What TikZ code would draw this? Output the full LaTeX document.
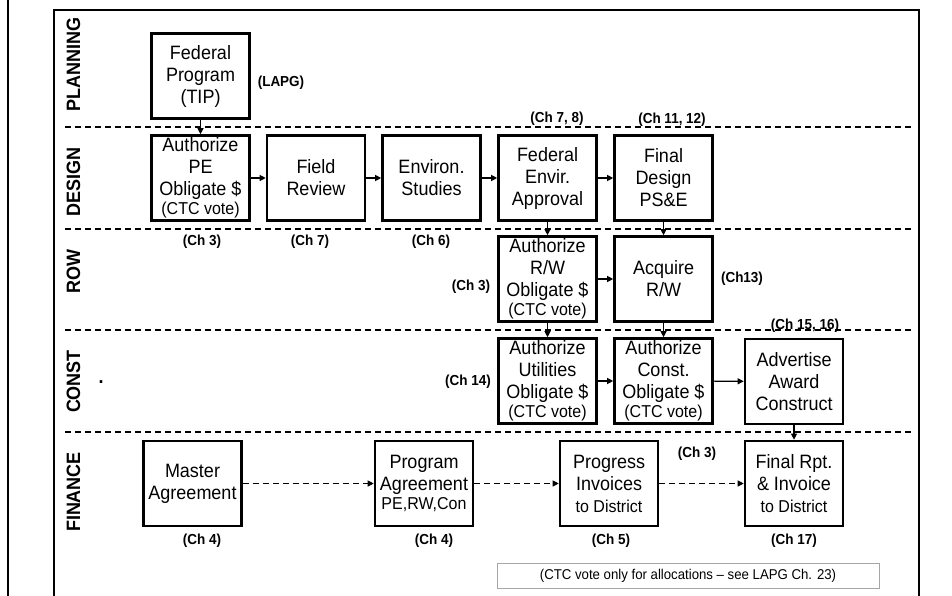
\documentclass[tikz,border=0pt]{standalone}
\usepackage{fontspec}
\setmainfont{Liberation Sans}[FakeStretch=0.93]
\usetikzlibrary{arrows.meta}
\newcommand\boxsmall[1]{{\fontsize{17.2}{18}\selectfont #1}}
\begin{document}
\begin{tikzpicture}[x=1pt,y=-1pt,
  box/.style={draw,line width=2.6pt,minimum width=98pt,minimum height=85pt,inner sep=0pt,align=center,font=\fontsize{19.35}{22}\selectfont},
  ch/.style={font=\bfseries\fontsize{14.5}{15}\selectfont,inner sep=0pt},
  lane/.style={rotate=90,font=\bfseries\fontsize{19.35}{20}\selectfont,inner sep=0pt},
  lanesep/.style={dash pattern=on 6pt off 4pt,line width=1.1pt},
  frame/.style={line width=2pt},
  flow/.style={line width=1.1pt,-{Triangle[length=6pt,width=6pt]}},
  flowd/.style={flow,dash pattern=on 6pt off 4pt},
]
\useasboundingbox (0,0) rectangle (952,596);
% frames
\coordinate (o1) at (8,0);
\coordinate (o2) at (8,596);
\draw[frame] (o1) -- (o2);
\coordinate (f1) at (54,596);
\coordinate (f2) at (54,10);
\coordinate (f3) at (919,10);
\coordinate (f4) at (919,596);
\draw[frame] (f1) -- (f2) -- (f3) -- (f4);
% lane separators
\foreach \yy/\nm in {127/a,229/b,330/c,432/d}{
  \coordinate (s\nm l) at (65,\yy);
  \coordinate (s\nm r) at (912,\yy);
  \draw[lanesep] (s\nm l) -- (s\nm r);
}
% lane labels
\node[lane] (lplan) at (73.5,64.5) {PLANNING};
\node[lane] (ldes) at (73.5,182) {DESIGN};
\node[lane] (lrow) at (73.5,272) {ROW};
\node[lane] (lcon) at (73.5,381.5) {CONST};
\node[lane] (lfin) at (73.5,492) {FINANCE};
\node[font=\bfseries\fontsize{19.35}{20}\selectfont,inner sep=0pt,anchor=base] (dot) at (101,383) {.};
% boxes
\node[box] (fp) at (200.5,76) {Federal\\Program\\(TIP)};
\node[box] (ape) at (200.5,178) {Authorize\\PE\\Obligate \$\\[-3pt]\boxsmall{(CTC vote)}};
\node[box] (frv) at (316,178) {Field\\Review};
\node[box] (es) at (431.5,178) {Environ.\\Studies};
\node[box] (fea) at (547.5,178) {Federal\\Envir.\\Approval};
\node[box] (fd) at (663.5,178) {Final\\Design\\PS\&E};
\node[box] (arw) at (547.5,279) {Authorize\\R/W\\Obligate \$\\[-3pt]\boxsmall{(CTC vote)}};
\node[box] (acq) at (663.5,279) {Acquire\\R/W};
\node[box] (au) at (547.5,381) {Authorize\\Utilities\\Obligate \$\\[-3pt]\boxsmall{(CTC vote)}};
\node[box] (ac) at (663.5,381) {Authorize\\Const.\\Obligate \$\\[-3pt]\boxsmall{(CTC vote)}};
\node[box] (adv) at (794,381.5) {Advertise\\Award\\Construct};
\node[box] (ma) at (192.5,483.5) {Master\\Agreement};
\node[box] (pa) at (424,483.5) {Program\\Agreement\\[-3pt]\boxsmall{PE,RW,Con}};
\node[box] (pi) at (609,483.5) {Progress\\Invoices\\\boxsmall{to District}};
\node[box] (fri) at (794,483.5) {Final Rpt.\\\& Invoice\\\boxsmall{to District}};
% chapter labels
\node[ch] (c1) at (281,83) {(LAPG)};
\node[ch] (c2) at (202,242) {(Ch 3)};
\node[ch] (c3) at (310,242) {(Ch 7)};
\node[ch] (c4) at (431,242) {(Ch 6)};
\node[ch] (c5) at (557,119) {(Ch 7, 8)};
\node[ch] (c6) at (672,120) {(Ch 11, 12)};
\node[ch] (c7) at (471,287) {(Ch 3)};
\node[ch] (c8) at (742,279) {(Ch13)};
\node[ch] (c9) at (468,382) {(Ch 14)};
\node[ch] (c10) at (805,326) {(Ch 15, 16)};
\node[ch] (c11) at (697,454) {(Ch 3)};
\node[ch] (c12) at (202,541) {(Ch 4)};
\node[ch] (c13) at (434,541) {(Ch 4)};
\node[ch] (c14) at (611,541) {(Ch 5)};
\node[ch] (c15) at (794,541) {(Ch 17)};
% footnote
\node[draw=black!35,line width=0.8pt,minimum width=382pt,minimum height=25pt,inner sep=0pt,font=\fontsize{14.2}{15}\selectfont] (note) at (688,575.5) {(CTC vote only for allocations -- see LAPG Ch. 23)};
% connectors
\draw[flow] (fp) -- (ape);
\draw[flow] (ape) -- (frv);
\draw[flow] (frv) -- (es);
\draw[flow] (es) -- (fea);
\draw[flow] (fea) -- (fd);
\draw[flow] (fea) -- (arw);
\draw[flow] (fd) -- (acq);
\draw[flow] (arw) -- (acq);
\draw[flow] (arw) -- (au);
\draw[flow] (acq) -- (ac);
\draw[flow] (au) -- (ac);
\draw[flow] (ac) -- (adv);
\draw[flow] (adv) -- (fri);
\draw[flowd] (ma) -- (pa);
\draw[flowd] (pa) -- (pi);
\draw[flowd] (pi) -- (fri);
\end{tikzpicture}
\end{document}
